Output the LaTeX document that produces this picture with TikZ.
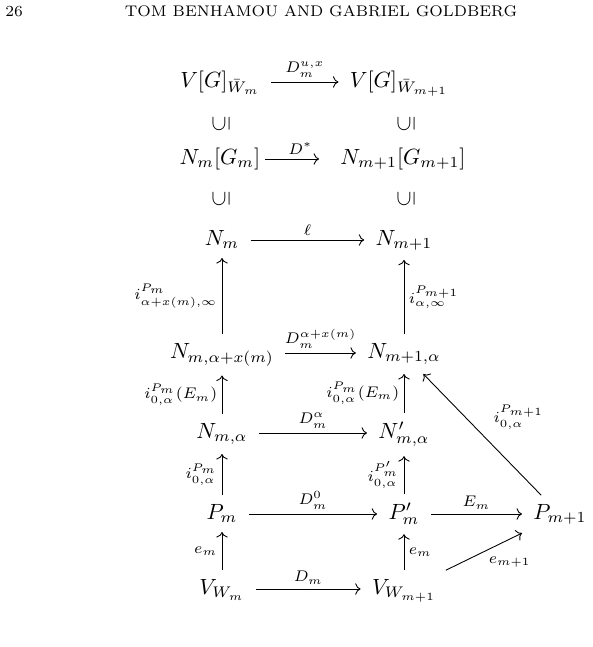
\documentclass[tikz,border=0pt]{standalone}
\usepackage{amsmath,amssymb}
\usetikzlibrary{arrows.meta}
\begin{document}
\begin{tikzpicture}[x=0.4545pt, y=-0.4545pt,
  obj/.style={anchor=base, inner xsep=5pt, inner ysep=4pt},
  incl/.style={rotate=90, inner sep=0pt},
  arr/.style={-{Computer Modern Rightarrow}, line width=0.4pt},
  lab/.style={font=\scriptsize, inner sep=2pt},
  hdr/.style={font=\fontsize{7}{8}\selectfont, inner sep=0pt}]
\useasboundingbox (0,0) rectangle (592,647);
% header
\node[hdr, anchor=base west] (pg) at (5,17) {26};
\node[hdr, anchor=base] (ttl) at (321,17) {TOM BENHAMOU AND GABRIEL GOLDBERG};
% top array
\node[obj] (A1) at (220,87.5) {$V[G]_{\bar W_m}$};
\node[obj] (B1) at (399,87.5) {$V[G]_{\bar W_{m+1}}$};
\node[incl] (U1a) at (221,124) {$\subseteq$};
\node[incl] (U1b) at (406,124) {$\subseteq$};
\node[obj] (A2) at (220,164.5) {$N_m[G_m]$};
\node[obj] (B2) at (403,164.5) {$N_{m+1}[G_{m+1}]$};
\node[incl] (U2a) at (221,199) {$\subseteq$};
\node[incl] (U2b) at (406,199) {$\subseteq$};
% main diagram
\node[obj] (A3) at (222,245.5) {$N_m$};
\node[obj] (B3) at (404,245.5) {$N_{m+1}$};
\node[obj] (A4) at (222,358.5) {$N_{m,\alpha+x(m)}$};
\node[obj] (B4) at (404,358.5) {$N_{m+1,\alpha}$};
\node[obj] (A5) at (222,438.5) {$N_{m,\alpha}$};
\node[obj] (B5) at (404,438.5) {$N'_{m,\alpha}$};
\node[obj] (A6) at (222,519.5) {$P_m$};
\node[obj] (B6) at (404,519.5) {$P'_m$};
\node[obj] (C6) at (560,519.5) {$P_{m+1}$};
\node[obj] (A7) at (222,594.5) {$V_{W_m}$};
\node[obj] (B7) at (404,594.5) {$V_{W_{m+1}}$};
% horizontal arrows
\draw[arr] ([yshift=2.5pt]A1.base east) -- ([yshift=2.5pt]B1.base west)
  node[lab, midway, above] {$D^{u,x}_m$};
\draw[arr, shorten <=-3pt, shorten >=4.5pt] ([yshift=2.5pt]A2.base east) -- ([yshift=2.5pt]B2.base west)
  node[lab, midway, above] {$D^{*}$};
\draw[arr] ([yshift=2.5pt]A3.base east) -- ([yshift=2.5pt]B3.base west)
  node[lab, midway, above] {$\ell$};
\draw[arr] ([yshift=2.5pt]A4.base east) -- ([yshift=2.5pt]B4.base west)
  node[lab, midway, above] {$D^{\alpha+x(m)}_m$};
\draw[arr] ([yshift=2.5pt]A5.base east) -- ([yshift=2.5pt]B5.base west)
  node[lab, midway, above] {$D^{\alpha}_m$};
\draw[arr] ([yshift=2.5pt]A6.base east) -- ([yshift=2.5pt]B6.base west)
  node[lab, midway, above] {$D^{0}_m$};
\draw[arr] ([yshift=2.5pt]B6.base east) -- ([yshift=2.5pt]C6.base west)
  node[lab, midway, above] {$E_m$};
\draw[arr] ([yshift=2.5pt]A7.base east) -- ([yshift=2.5pt]B7.base west)
  node[lab, midway, above] {$D_m$};
% vertical arrows
\draw[arr] (A4.north) -- (A3.south) node[lab, midway, left] {$i^{P_m}_{\alpha+x(m),\infty}$};
\draw[arr] (B4.north) -- (B3.south) node[lab, midway, right] {$i^{P_{m+1}}_{\alpha,\infty}$};
\draw[arr] (A5.north) -- (A4.south) node[lab, midway, left] {$i^{P_m}_{0,\alpha}(E_m)$};
\draw[arr] (B5.north) -- (B4.south) node[lab, midway, left] {$i^{P_m}_{0,\alpha}(E_m)$};
\draw[arr] (A6.north) -- (A5.south) node[lab, midway, left] {$i^{P_m}_{0,\alpha}$};
\draw[arr] (B6.north) -- (B5.south) node[lab, midway, left] {$i^{P'_m}_{0,\alpha}$};
\draw[arr] (A7.north) -- (A6.south) node[lab, midway, left] {$e_m$};
\draw[arr] (B7.north) -- (B6.south) node[lab, midway, right] {$e_m$};
% diagonal arrows
\draw[arr] (C6) -- (B4) node[lab, midway, above right, xshift=3pt] {$i^{P_{m+1}}_{0,\alpha}$};
\draw[arr] (B7) -- (C6) node[lab, midway, below right] {$e_{m+1}$};
\end{tikzpicture}
\end{document}
